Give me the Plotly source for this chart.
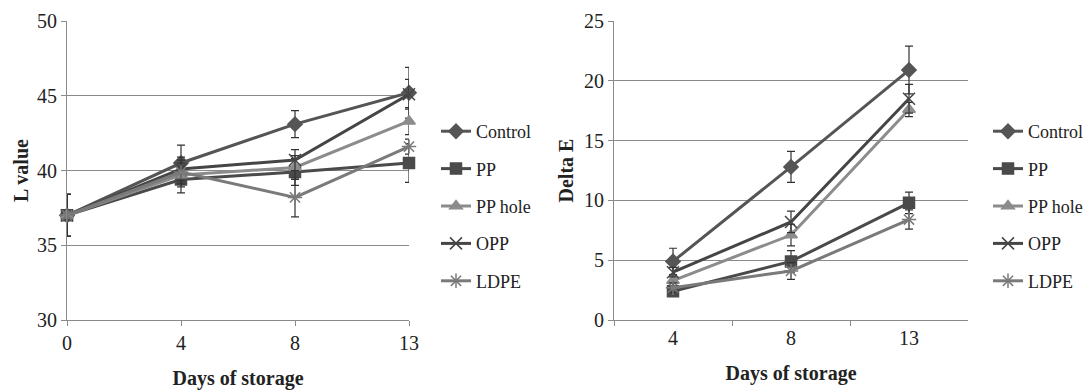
import plotly.graph_objects as go

series = ["Control", "PP", "PP hole", "OPP", "LDPE"]

# Left chart: L value
days_L = ["0", "4", "8", "13"]
L_control = [37.0, 40.5, 43.1, 45.2]
L_pp = [37.0, 39.4, 39.9, 40.5]
L_pphole = [37.0, 39.7, 40.2, 43.3]
L_opp = [37.0, 40.1, 40.7, 45.1]
L_ldpe = [37.0, 39.9, 38.2, 41.6]
L_control_err = [1.4, 1.2, 0.9, 1.7]
L_pp_err = [1.4, 0.9, 0.9, 1.3]
L_pphole_err = [1.4, 0.8, 0.8, 0.9]
L_opp_err = [1.4, 0.8, 0.7, 1.0]
L_ldpe_err = [1.4, 0.8, 1.3, 0.5]

# Right chart: Delta E
days_E = ["4", "8", "13"]
E_control = [4.9, 12.8, 20.9]
E_pp = [2.4, 4.9, 9.8]
E_pphole = [3.3, 7.1, 17.6]
E_opp = [4.0, 8.2, 18.5]
E_ldpe = [2.7, 4.1, 8.4]
E_control_err = [1.1, 1.3, 2.0]
E_pp_err = [0.4, 0.9, 0.9]
E_pphole_err = [0.4, 0.9, 0.6]
E_opp_err = [0.4, 0.9, 1.2]
E_ldpe_err = [0.4, 0.7, 0.8]

colors = ["#555555", "#4a4a4a", "#8c8c8c", "#454545", "#7a7a7a"]
symbols = ["diamond", "square", "triangle-up", "x-thin-open", "asterisk-open"]
sizes = [11, 11, 11, 12, 12]

L_vals = [L_control, L_pp, L_pphole, L_opp, L_ldpe]
L_errs = [L_control_err, L_pp_err, L_pphole_err, L_opp_err, L_ldpe_err]
E_vals = [E_control, E_pp, E_pphole, E_opp, E_ldpe]
E_errs = [E_control_err, E_pp_err, E_pphole_err, E_opp_err, E_ldpe_err]

FONT = "Liberation Serif"
W, H = 1089, 392

fig = go.Figure()
for i, name in enumerate(series):
    fig.add_trace(go.Scatter(
        x=days_L, y=L_vals[i], name=name, mode="lines+markers",
        line=dict(color=colors[i], width=3), cliponaxis=False,
        marker=dict(symbol=symbols[i], size=sizes[i], color=colors[i],
                    line=dict(color=colors[i], width=1.5)),
        error_y=dict(type="data", array=L_errs[i], color="#333333", thickness=1.2, width=4),
        xaxis="x", yaxis="y", legend="legend",
        legendgroup="L" + name,
    ))
for i, name in enumerate(series):
    fig.add_trace(go.Scatter(
        x=days_E, y=E_vals[i], name=name, mode="lines+markers",
        line=dict(color=colors[i], width=3), cliponaxis=False,
        marker=dict(symbol=symbols[i], size=sizes[i], color=colors[i],
                    line=dict(color=colors[i], width=1.5)),
        error_y=dict(type="data", array=E_errs[i], color="#333333", thickness=1.2, width=4),
        xaxis="x2", yaxis="y2", legend="legend2",
        legendgroup="E" + name,
    ))

ytop = 1 - 21 / H
ybot = 1 - 320 / H
axis_common = dict(
    showline=True, linecolor="#8a8a8a", linewidth=1, automargin=False,
    ticks="outside", ticklen=5, tickcolor="#8a8a8a",
    tickfont=dict(family=FONT, size=20, color="#222222"),
)
legend_common = dict(
    font=dict(family=FONT, size=18, color="#222222"),
    tracegroupgap=11, bgcolor="rgba(0,0,0,0)", itemwidth=30,
    xanchor="left", yanchor="top",
)

fig.update_layout(
    width=W, height=H,
    margin=dict(l=0, r=0, t=0, b=0, autoexpand=False),
    paper_bgcolor="white", plot_bgcolor="white",
    font=dict(family=FONT, color="#222222"),
    xaxis=dict(
        domain=[67 / W, 409 / W], type="category", categoryarray=days_L,
        range=[0, 3], showgrid=False, anchor="y",
        title=dict(text="<b>Days of storage</b>", font=dict(family=FONT, size=20), standoff=17),
        **axis_common,
    ),
    yaxis=dict(
        domain=[ybot, ytop], range=[30, 50], dtick=5, anchor="x",
        showgrid=True, gridcolor="#8a8a8a", gridwidth=1, zeroline=False,
        title=dict(text="<b>L value</b>", font=dict(family=FONT, size=20), standoff=3),
        **axis_common,
    ),
    xaxis2=dict(
        domain=[614 / W, 968 / W], type="category", categoryarray=days_E,
        range=[-0.5, 2.5], showgrid=False, anchor="y2", tickson="boundaries",
        title=dict(text="<b>Days of storage</b>", font=dict(family=FONT, size=20), standoff=17),
        **axis_common,
    ),
    yaxis2=dict(
        domain=[ybot, ytop], range=[0, 25], dtick=5, anchor="x2",
        showgrid=True, gridcolor="#8a8a8a", gridwidth=1, zeroline=False,
        title=dict(text="<b>Delta E</b>", font=dict(family=FONT, size=20), standoff=5),
        **axis_common,
    ),
    legend=dict(x=436 / W, y=1 - 113 / H, **legend_common),
    legend2=dict(x=988 / W, y=1 - 113 / H, **legend_common),
)

fig.write_html(
    "out.html",
    config={"displayModeBar": False},
    post_script="document.body.style.margin='0px';document.body.style.overflow='hidden';",
)
